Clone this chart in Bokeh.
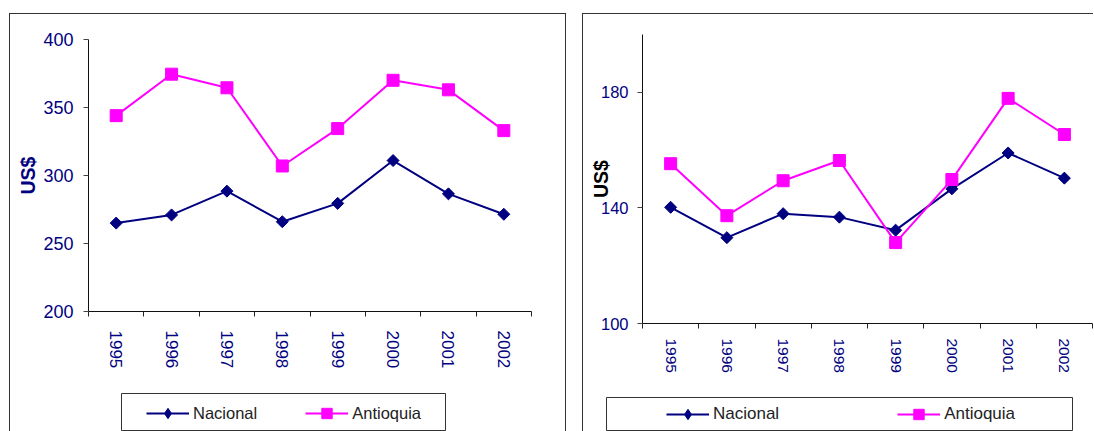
import math
from bokeh.plotting import figure
from bokeh.layouts import row, column
from bokeh.models import Range1d, FixedTicker, Legend, LegendItem, ColumnDataSource
from bokeh.embed import file_html
from bokeh.resources import INLINE

years = ["1995", "1996", "1997", "1998", "1999", "2000", "2001", "2002"]
left_nacional = [265, 271, 288.5, 266, 279.5, 311, 286.5, 271.5]
left_antioquia = [344, 374.5, 364.5, 307, 334.5, 370, 363, 333]
right_nacional = [140.2, 129.7, 138, 136.8, 132.3, 146.6, 159, 150.3]
right_antioquia = [155.3, 137.3, 149.4, 156.4, 128, 149.8, 177.9, 165.4]
left_yticks = [200, 250, 300, 350, 400]
right_yticks = [100, 140, 180]
series_names = ["Nacional", "Antioquia"]

NAVY = "#000080"
MAG = "#FF00FF"
FONT = "Liberation Sans"
EDGE = "#333333"


def add_series(p, src, nmarker, nsize, nangle, ssize):
    l1 = p.line("x", "nac", source=src, line_color=NAVY, line_width=2)
    s1 = p.scatter("x", "nac", source=src, marker=nmarker, size=nsize, angle=nangle,
                   fill_color=NAVY, line_color=NAVY)
    l2 = p.line("x", "ant", source=src, line_color=MAG, line_width=2)
    s2 = p.scatter("x", "ant", source=src, marker="square", size=ssize,
                   fill_color=MAG, line_color=MAG)
    return l1, s1, l2, s2


def make_chart(width, height, mb, yr, yticks, src, cfg):
    p = figure(width=width, height=height, output_backend="svg", toolbar_location=None,
               x_range=Range1d(0, len(years)), y_range=Range1d(*yr),
               min_border_left=mb[0], min_border_right=mb[1],
               min_border_top=mb[2], min_border_bottom=mb[3])
    p.title.visible = False
    p.outline_line_color = None
    p.grid.visible = False

    add_series(p, src, "square", 8.5, math.pi / 4, 12)

    xs = list(src.data["x"])
    xa = p.xaxis[0]
    xa.ticker = FixedTicker(ticks=xs, minor_ticks=list(range(len(years) + 1)))
    xa.major_label_overrides = {x: y for x, y in zip(xs, years)}
    xa.major_label_orientation = "vertical"
    xa.major_tick_out = 0
    xa.major_tick_in = 0
    xa.minor_tick_out = 5
    xa.minor_tick_in = 0
    xa.minor_tick_line_color = "#222"
    xa.axis_line_color = "#111"
    xa.major_label_text_font = FONT
    xa.major_label_text_font_size = cfg["xfs"]
    xa.major_label_text_color = NAVY
    xa.major_label_standoff = cfg["xstand"]

    ya = p.yaxis[0]
    ya.ticker = FixedTicker(ticks=yticks, minor_ticks=[])
    ya.major_tick_out = 5
    ya.major_tick_in = 0
    ya.major_tick_line_color = "#444"
    ya.axis_line_color = "#111"
    ya.major_label_text_font = FONT
    ya.major_label_text_font_size = cfg["yfs"]
    ya.major_label_text_color = NAVY
    ya.major_label_standoff = cfg["ystand"]
    ya.axis_label = "US$"
    ya.axis_label_text_font = FONT
    ya.axis_label_text_font_style = "bold"
    ya.axis_label_text_font_size = "19.5px"
    ya.axis_label_text_color = cfg["labcol"]
    ya.axis_label_standoff = cfg["labstand"]
    return p


def make_legend_fig(width, height, src, loc, spacing, fs):
    # the legend's own figure: its frame outline is the legend box; the series are
    # plotted here too but fall outside this figure's (0..1) view
    q = figure(width=width, height=height, output_backend="svg", toolbar_location=None,
               x_range=Range1d(0, 1), y_range=Range1d(0, 1),
               x_axis_location=None, y_axis_location=None,
               min_border_left=0, min_border_right=0,
               min_border_top=0, min_border_bottom=0)
    q.title.visible = False
    q.grid.visible = False
    q.outline_line_color = EDGE
    q.outline_line_width = 1
    l1, s1, l2, s2 = add_series(q, src, "diamond", 10, 0, 11)
    legend = Legend(items=[LegendItem(label=series_names[0], renderers=[l1, s1]),
                           LegendItem(label=series_names[1], renderers=[l2, s2])],
                    location=loc, orientation="horizontal",
                    glyph_width=43, glyph_height=26, label_height=16,
                    label_standoff=4, spacing=spacing, padding=0, margin=0,
                    border_line_color=None, background_fill_alpha=0,
                    label_text_font=FONT, label_text_font_size=fs,
                    label_text_color="#222")
    q.add_layout(legend)
    return q


xs = [i + 0.5 for i in range(len(years))]
src_left = ColumnDataSource(dict(x=xs, nac=left_nacional, ant=left_antioquia))
src_right = ColumnDataSource(dict(x=xs, nac=right_nacional, ant=right_antioquia))

# left panel
c1 = make_chart(555, 366, (78, 34, 25, 69), (200, 400), left_yticks, src_left,
                dict(xfs="17px", xstand=14, yfs="18px", ystand=10, labcol=NAVY,
                     labstand=1))
g1 = make_legend_fig(325, 38, src_left, (25, 5), 48, "16.5px")
col1 = column(c1, row(g1, margin=(13, 0, 0, 111)), margin=(13, 0, 0, 9), spacing=0,
              styles={"border-top": f"1px solid {EDGE}", "border-left": f"1px solid {EDGE}",
                      "border-right": f"1px solid {EDGE}"})

# right panel
c2 = make_chart(510, 375, (59, 1, 20, 66), (100, 200), right_yticks, src_right,
                dict(xfs="15.5px", xstand=10, yfs="16.5px", ystand=9, labcol="#000",
                     labstand=-14))
g2 = make_legend_fig(467, 34, src_right, (60, 4), 118, "17px")
col2 = column(c2, row(g2, margin=(8, 0, 0, 23)), margin=(13, 0, 0, 16), spacing=0,
              styles={"border-top": f"1px solid {EDGE}", "border-left": f"1px solid {EDGE}"})

layout = row(col1, col2, spacing=0)
open("out.html", "w").write(file_html(layout, INLINE))
